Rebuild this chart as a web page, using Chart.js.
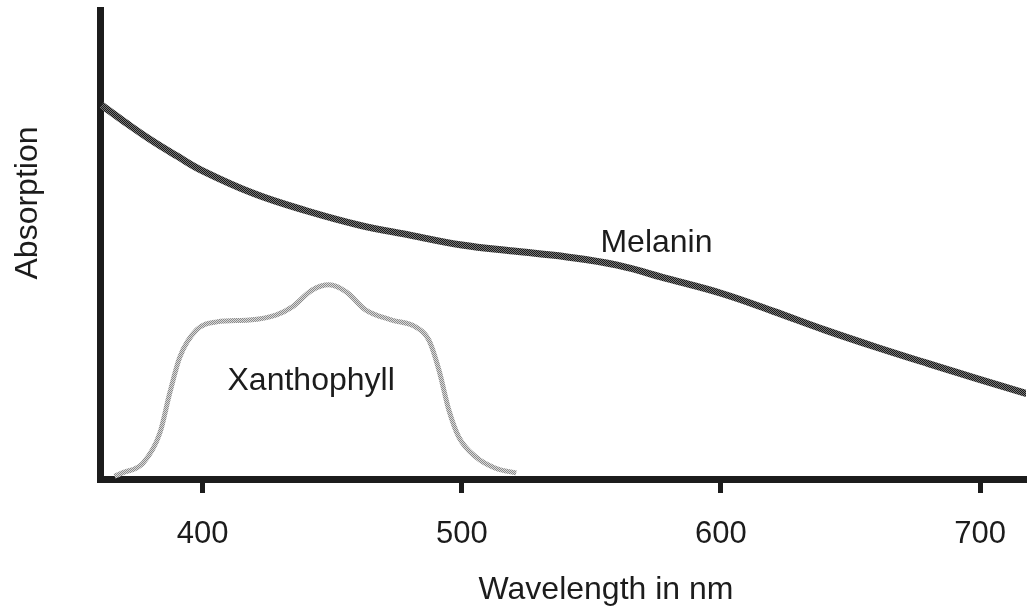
<!DOCTYPE html>
<html>
<head>
<meta charset="utf-8">
<title>Absorption</title>
<script src="https://cdn.jsdelivr.net/npm/chart.js@4/dist/chart.umd.min.js"></script>
<style>
  html, body { margin: 0; padding: 0; background: #fff; }
  canvas { display: block; }
</style>
</head>
<body>
<canvas id="chart" width="1029" height="609"></canvas>
<script>
// === Datos (absorcion en unidades relativas 0-100) ===
const tickNm = [400, 500, 600, 700];

const melaninNm  = [361, 370, 380, 390, 400, 420, 440, 460, 480, 500, 520, 540, 560, 580, 600, 620, 640, 660, 680, 700, 718];
const melaninAbs = [79.7, 76.1, 72.3, 68.9, 65.7, 60.8, 57.2, 54.2, 52.0, 49.9, 48.6, 47.4, 45.6, 42.6, 39.6, 35.8, 31.8, 28.1, 24.6, 21.2, 18.2];

const xanthNm  = [366, 369, 377, 383.5, 387.3, 391.2, 397.7, 405.4, 418, 428.5, 434.6, 442.3, 448.8, 455.4, 463, 473, 482.3, 487.3, 491.2, 495, 498.8, 505.4, 513, 521];
const xanthAbs = [0.6, 1.3, 3.4, 9.8, 18.3, 26.0, 31.8, 33.5, 33.9, 35.0, 36.7, 40.3, 41.4, 39.9, 36.0, 33.9, 32.4, 29.6, 23.2, 14.7, 9.0, 4.7, 2.3, 1.3];

const labels = [
  { text: 'Melanin',     nm: 553.5, abs: 48.4 },
  { text: 'Xanthophyll', nm: 409.6, abs: 19.0 }
];

const FONT = '"Liberation Sans", Arial, sans-serif';
const INK = '#1c1c1c';

// trama tipo "halftone" para imitar la impresion
function trama(a, b) {
  const c = document.createElement('canvas');
  c.width = 2; c.height = 2;
  const g = c.getContext('2d');
  g.fillStyle = b; g.fillRect(0, 0, 2, 2);
  g.fillStyle = a; g.fillRect(0, 0, 1, 1); g.fillRect(1, 1, 1, 1);
  return g.createPattern(c, 'repeat');
}

function puntos(xs, ys) { return xs.map((x, i) => ({ x, y: ys[i] })); }

// textos: titulos de ejes y etiquetas de curvas
const textos = {
  id: 'textos',
  afterDraw(chart) {
    const { ctx, scales: { x, y } } = chart;
    ctx.save();
    ctx.fillStyle = INK;
    ctx.font = '32px ' + FONT;
    ctx.textBaseline = 'alphabetic';
    ctx.textAlign = 'left';
    labels.forEach(l => ctx.fillText(l.text, x.getPixelForValue(l.nm), y.getPixelForValue(l.abs)));

    ctx.textAlign = 'center';
    ctx.fillText('Wavelength in nm', 606, 599);

    ctx.translate(37, 203);
    ctx.rotate(-Math.PI / 2);
    ctx.fillText('Absorption', 0, 0);
    ctx.restore();
  }
};

new Chart(document.getElementById('chart'), {
  type: 'line',
  data: {
    datasets: [
      {
        label: 'Melanin',
        data: puntos(melaninNm, melaninAbs),
        borderColor: trama('#1a1a1a', '#777777'),
        borderWidth: 7,
        pointRadius: 0,
        tension: 0.4,
        fill: false
      },
      {
        label: 'Xanthophyll',
        data: puntos(xanthNm, xanthAbs),
        borderColor: trama('#8a8a8a', '#dadada'),
        borderWidth: 5,
        pointRadius: 0,
        cubicInterpolationMode: 'monotone',
        fill: false
      }
    ]
  },
  options: {
    responsive: false,
    animation: false,
    layout: { padding: { top: 10, right: 0, left: 0, bottom: 0 } },
    plugins: { legend: { display: false }, tooltip: { enabled: false } },
    scales: {
      x: {
        type: 'linear',
        min: 360.4,
        max: 717.7,
        afterBuildTicks: s => { s.ticks = tickNm.map(v => ({ value: v })); },
        afterFit: s => { s.height = 130; },
        border: { display: true, width: 7, color: INK },
        grid: { display: true, drawOnChartArea: false, drawTicks: true, tickLength: 14, tickWidth: 5, tickColor: INK },
        ticks: { color: INK, font: { family: FONT, size: 31 }, padding: 23, maxRotation: 0 }
      },
      y: {
        min: 0,
        max: 100,
        afterFit: s => { s.width = 100; },
        border: { display: true, width: 7, color: INK },
        grid: { display: false },
        ticks: { display: false }
      }
    }
  },
  plugins: [textos]
});
</script>
</body>
</html>
